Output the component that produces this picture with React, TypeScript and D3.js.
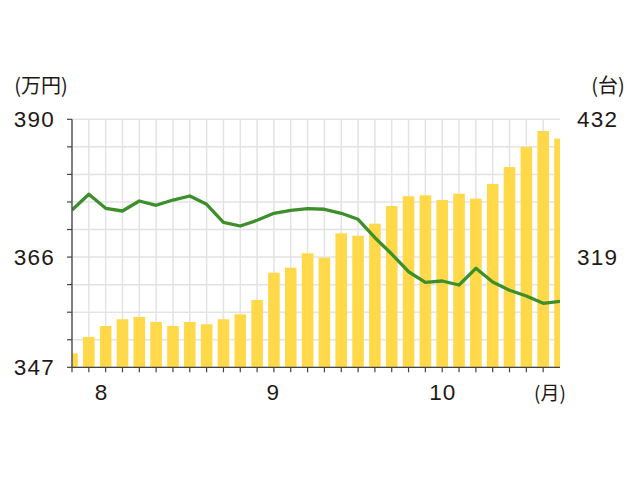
import React from "react";
import * as d3 from "d3";

const carCounts = [240.1, 253.5, 262.5, 268.0, 269.9, 265.8, 262.5, 265.8, 263.9, 268.0, 272.1, 283.8, 306.2, 310.3, 322.1, 318.5, 338.5, 336.5, 346.4, 360.9, 368.9, 369.7, 365.8, 371.0, 366.9, 379.0, 392.9, 409.3, 422.4, 416.1];
const prices = [374.27, 377.0, 374.57, 374.1, 375.83, 375.09, 376.0, 376.7, 375.26, 372.14, 371.5, 372.49, 373.7, 374.22, 374.5, 374.4, 373.7, 372.66, 369.47, 366.64, 363.57, 361.74, 361.96, 361.27, 364.16, 361.79, 360.35, 359.36, 358.1, 358.44];
const monthLabels = ["8", "9", "10"];
const monthPositions = [1.76, 11.96, 22.04];
const leftTicks = [390, 366, 347];
const rightTicks = [432, 319];
const leftDomain = [347, 390];
const rightDomain = [228.6, 432];

const W = 640, H = 480;
const L = 72, R = 560, T = 119.3, B = 367.3;
const FONT = "'Noto Sans CJK JP', 'Noto Sans', sans-serif";
const NUMFONT = "'Liberation Sans', Arial, sans-serif";
const TEXT = "#231815";
const NS = 22.5;

export default function App() {
  const n = carCounts.length;
  const x = d3.scaleLinear().domain([0, n - 1]).range([L, R]);
  const yL = d3.scaleLinear().domain(leftDomain).range([B, T]);
  const yR = d3.scaleLinear().domain(rightDomain).range([B, T]);
  const gridYs = d3.range(10).map((i) => T + (i * (B - T)) / 9);
  const gridXs = d3.range(n - 1).map((i) => x(i));
  const barW = 11.6;
  const line = d3
    .line<number>()
    .x((_, i) => x(i))
    .y((d) => yL(d));

  return (
    <svg width={W} height={H} style={{ position: "absolute", left: 0, top: 0 }}>
      <defs>
        <clipPath id="plot">
          <rect x={L} y={T - 20} width={R - L} height={B - T + 20} />
        </clipPath>
      </defs>
      <rect width={W} height={H} fill="#fff" />
      {gridYs.map((gy, i) => (
        <line key={"h" + i} x1={L} x2={R} y1={gy} y2={gy} stroke="#e3e3e3" strokeWidth={1.5} />
      ))}
      {gridXs.map((gx, i) => (
        <line key={"v" + i} x1={gx} x2={gx} y1={T} y2={B} stroke="#e3e3e3" strokeWidth={1.5} />
      ))}
      <g clipPath="url(#plot)">
        {carCounts.map((v, i) => (
          <rect
            key={"b" + i}
            x={x(i) - barW / 2}
            y={yR(v)}
            width={barW}
            height={B - yR(v)}
            fill="#FFD94A"
          />
        ))}
        <path d={line(prices) || ""} fill="none" stroke="#3C8F2A" strokeWidth={3.3} strokeLinejoin="round" />
      </g>
      <line x1={L} x2={L} y1={T} y2={B} stroke="#444" strokeWidth={1.3} />
      {gridYs.map((gy, i) => (
        <line key={"lt" + i} x1={L - 5} x2={L} y1={gy} y2={gy} stroke="#444" strokeWidth={1.2} />
      ))}
      <line x1={L} x2={R} y1={B} y2={B} stroke="#444" strokeWidth={1.3} />
      {gridXs.map((gx, i) => (
        <line key={"bt" + i} x1={gx} x2={gx} y1={B} y2={B + 5} stroke="#444" strokeWidth={1.2} />
      ))}
      <g fill={TEXT}>
        {leftTicks.map((t) => (
          <text key={"l" + t} x={55} y={yL(t)} fontSize={NS} fontFamily={NUMFONT} letterSpacing={1.2} textAnchor="end" dominantBaseline="central">
            {t}
          </text>
        ))}
        {rightTicks.map((t) => (
          <text key={"r" + t} x={577} y={yR(t)} fontSize={NS} fontFamily={NUMFONT} letterSpacing={1.2} textAnchor="start" dominantBaseline="central">
            {t}
          </text>
        ))}
        {monthLabels.map((m, i) => (
          <text key={"m" + m} x={x(monthPositions[i])} y={392} fontSize={NS} fontFamily={NUMFONT} letterSpacing={1.2} textAnchor="middle" dominantBaseline="central">
            {m}
          </text>
        ))}
        <text x={550} y={391} fontSize={19} fontFamily={FONT} textAnchor="middle" dominantBaseline="central">(月)</text>
        <text x={41} y={84} fontSize={20} fontFamily={FONT} textAnchor="middle" dominantBaseline="central">(万円)</text>
        <text x={608} y={84} fontSize={20} fontFamily={FONT} textAnchor="middle" dominantBaseline="central">(台)</text>
      </g>
    </svg>
  );
}
